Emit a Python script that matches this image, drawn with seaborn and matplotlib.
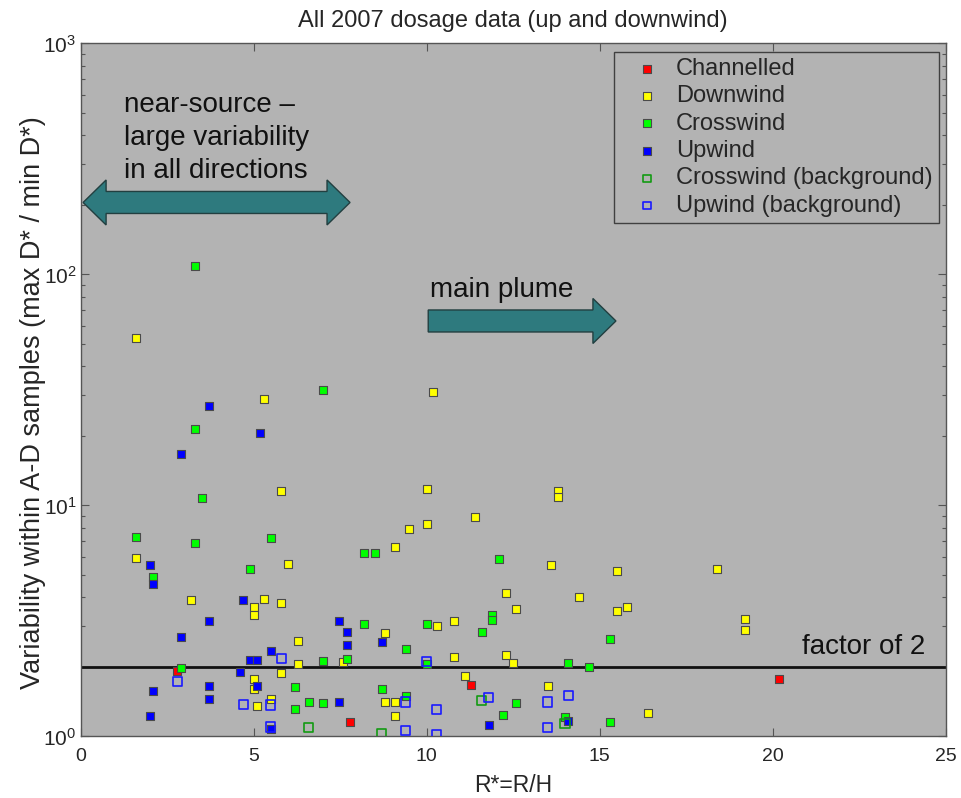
import numpy as np
import pandas as pd
import matplotlib
matplotlib.use("Agg")
import matplotlib.pyplot as plt
import seaborn as sns
from matplotlib.patches import Polygon
from matplotlib.ticker import LogLocator, FixedLocator, NullLocator, NullFormatter

# ---------------- data ----------------
chan_r = [2.8, 7.8, 11.3, 20.2]
chan_v = [1.93, 1.15, 1.67, 1.78]

down_r = [1.6, 5.3, 5.8, 1.6, 6.0, 3.2, 5.3, 5.0, 5.8, 5.0, 6.3, 6.3, 5.8, 5.0, 5.0, 5.5, 5.1,
          10.2, 10.0, 13.8, 13.8, 11.4, 10.0, 9.5, 9.1,
          13.6, 12.3, 14.4, 12.6, 8.8, 10.3, 10.8, 10.8, 12.3, 12.5, 7.6, 11.1, 13.5, 8.8, 9.1, 9.1,
          15.5, 18.4, 15.5, 15.8, 19.2, 19.2, 16.4]
down_v = [53, 29, 11.5, 5.9, 5.6, 3.9, 3.95, 3.65, 3.8, 3.35, 2.6, 2.06, 1.89, 1.77, 1.6, 1.46, 1.35,
          31, 11.8, 11.5, 10.9, 8.9, 8.3, 7.9, 6.6,
          5.55, 4.2, 4.03, 3.58, 2.8, 3.0, 3.15, 2.2, 2.26, 2.09, 2.1, 1.82, 1.65, 1.41, 1.41, 1.23,
          5.2, 5.3, 3.5, 3.64, 3.23, 2.89, 1.27]

cross_r = [3.3, 7.0, 3.3, 3.5, 1.6, 3.3, 5.5, 2.1, 4.9, 7.0, 2.9, 6.2, 6.6, 7.0, 6.2,
           8.2, 8.5, 12.1, 11.9, 11.9, 8.2, 10.0, 11.6, 9.4, 14.1, 7.7, 10.0, 8.7, 9.4, 12.6, 12.2, 14.0,
           15.3, 14.7, 15.3]
cross_v = [109, 31.5, 21.5, 10.8, 7.3, 6.9, 7.2, 4.9, 5.3, 2.12, 1.98, 1.64, 1.41, 1.39, 1.31,
           6.25, 6.25, 5.85, 3.36, 3.18, 3.07, 3.07, 2.83, 2.4, 2.09, 2.17, 2.07, 1.61, 1.5, 1.40, 1.24, 1.22,
           2.63, 1.99, 1.15]

up_r = [3.7, 5.2, 2.9, 2.0, 2.1, 4.7, 3.7, 7.46, 2.9, 5.5, 4.9, 5.1, 4.6, 5.1, 2.1, 3.7, 3.7, 7.46, 2.0, 5.5,
        7.7, 7.7, 8.7, 14.1, 11.8]
up_v = [27, 20.7, 16.7, 5.5, 4.55, 3.9, 3.15, 3.15, 2.7, 2.35, 2.14, 2.14, 1.91, 1.65, 1.58, 1.65, 1.45, 1.41, 1.23, 1.08,
        2.83, 2.5, 2.56, 1.17, 1.12]

crossbg_r = [6.6, 11.6, 14.0, 8.7]
crossbg_v = [1.09, 1.43, 1.14, 1.03]

upbg_r = [5.8, 2.8, 4.7, 5.5, 5.5, 10.0, 14.1, 9.4, 11.8, 13.5, 10.3, 13.5, 9.4, 10.3]
upbg_v = [2.18, 1.73, 1.38, 1.37, 1.1, 2.12, 1.5, 1.41, 1.48, 1.41, 1.31, 1.09, 1.06, 1.02]

factor_level = 2
x_ticks = [0, 5, 10, 15, 20, 25]

# ---------------- style ----------------
sns.set_style("ticks")
plt.rcParams['font.family'] = ['Liberation Sans', 'DejaVu Sans']
plt.rcParams['mathtext.fontset'] = 'custom'
plt.rcParams['mathtext.rm'] = 'Liberation Sans'
plt.rcParams['mathtext.it'] = 'Liberation Sans'
plt.rcParams['mathtext.default'] = 'regular'

GRAY_BG = '#b3b3b3'
SPINE = '#555555'
TEAL = '#2e7a7e'

fig = plt.figure(figsize=(9.62, 7.98), dpi=100)
ax = fig.add_axes([0.08368, 0.07707, 0.89917, 0.86842])
ax.set_facecolor(GRAY_BG)

def frame(r, v):
    return pd.DataFrame({'R': r, 'V': v})

filled_kw = dict(marker='s', s=26, linewidth=0.8, edgecolor='#4a4a4a', ax=ax, zorder=3)
sns.scatterplot(data=frame(chan_r, chan_v), x='R', y='V', color='#ff0000', label='Channelled', **filled_kw)
sns.scatterplot(data=frame(down_r, down_v), x='R', y='V', color='#ffff00', label='Downwind', **filled_kw)
sns.scatterplot(data=frame(cross_r, cross_v), x='R', y='V', color='#00ff00', label='Crosswind', **filled_kw)
sns.scatterplot(data=frame(up_r, up_v), x='R', y='V', color='#0000ff', label='Upwind', **filled_kw)
open_kw = dict(marker='s', s=44, linewidth=1.2, facecolor='none', ax=ax, zorder=4)
sns.scatterplot(data=frame(crossbg_r, crossbg_v), x='R', y='V', edgecolor='#139a13',
                label='Crosswind (background)', **open_kw)
sns.scatterplot(data=frame(upbg_r, upbg_v), x='R', y='V', edgecolor='#1a1aff',
                label='Upwind (background)', **open_kw)

ax.axhline(factor_level, color='#111111', lw=2.0, zorder=2)

ax.set_yscale('log')
ax.set_xlim(x_ticks[0], x_ticks[-1])
ax.set_ylim(1, 1000)
ax.xaxis.set_major_locator(FixedLocator(x_ticks))
ax.xaxis.set_minor_locator(NullLocator())
ax.yaxis.set_major_locator(LogLocator(base=10, numticks=10))
ax.yaxis.set_minor_locator(LogLocator(base=10, subs=np.arange(2, 10), numticks=20))
ax.yaxis.set_minor_formatter(NullFormatter())

ax.tick_params(which='both', direction='in', top=True, right=True, color=SPINE, width=0.8)
ax.tick_params(which='major', length=6)
ax.tick_params(which='minor', length=3)
ax.tick_params(axis='x', labelsize=14, pad=8)
ax.tick_params(axis='y', labelsize=15, pad=3)
for sp in ax.spines.values():
    sp.set_color(SPINE)
    sp.set_linewidth(1.0)

ax.set_title('All 2007 dosage data (up and downwind)', fontsize=17, pad=12)
ax.set_xlabel('R*=R/H', fontsize=16.5, labelpad=7)
ax.set_ylabel('Variability within A-D samples (max D* / min D*)', fontsize=19.5)
ax.yaxis.set_label_coords(-0.040, 0.482)

# ---------------- annotations ----------------
AW, AH = 865.0, 693.0  # axes size in px, for converting arrow geometry

def dbl_arrow(x0, x1, yc, hl, hw, sw):
    hl, hw, sw = hl / AW, hw / AH, sw / AH
    return [(x0, yc), (x0 + hl, yc + hw), (x0 + hl, yc + sw), (x1 - hl, yc + sw), (x1 - hl, yc + hw),
            (x1, yc), (x1 - hl, yc - hw), (x1 - hl, yc - sw), (x0 + hl, yc - sw), (x0 + hl, yc - hw)]

def one_arrow(x0, x1, yc, hl, hw, sw):
    hl, hw, sw = hl / AW, hw / AH, sw / AH
    return [(x0, yc + sw), (x1 - hl, yc + sw), (x1 - hl, yc + hw), (x1, yc),
            (x1 - hl, yc - hw), (x1 - hl, yc - sw), (x0, yc - sw)]

ax.add_patch(Polygon(dbl_arrow(0.003, 0.3116, 0.7706, 23, 22.5, 11), closed=True,
                     transform=ax.transAxes, facecolor=TEAL, edgecolor='#223f40', lw=1.0, zorder=5))
ax.add_patch(Polygon(one_arrow(0.402, 0.619, 0.5996, 23, 22.5, 11), closed=True,
                     transform=ax.transAxes, facecolor=TEAL, edgecolor='#223f40', lw=1.0, zorder=5))

ax.text(0.0506, 0.9295, 'near-source \u2013\nlarge variability\nin all directions', transform=ax.transAxes,
        fontsize=20, ha='left', va='top', linespacing=1.33, color='#111111')
ax.text(0.404, 0.6342, 'main plume', transform=ax.transAxes, fontsize=20, ha='left', va='baseline',
        color='#111111')
ax.text(0.8337, 0.119, 'factor of 2', transform=ax.transAxes, fontsize=20, ha='left', va='baseline',
        color='#111111')

leg = ax.legend(loc='upper right', bbox_to_anchor=(0.992, 0.988), borderaxespad=0, fontsize=17,
                frameon=True, fancybox=False, facecolor=GRAY_BG, edgecolor='#404040', framealpha=1,
                borderpad=0.25, handlelength=2.3, handletextpad=0.08, labelspacing=0.23, scatterpoints=1)
leg.get_frame().set_linewidth(1.0)
leg.set_zorder(6)
for h in leg.legend_handles:
    h.set_sizes([26])

fig.savefig('out.png', dpi=100, facecolor='white')
